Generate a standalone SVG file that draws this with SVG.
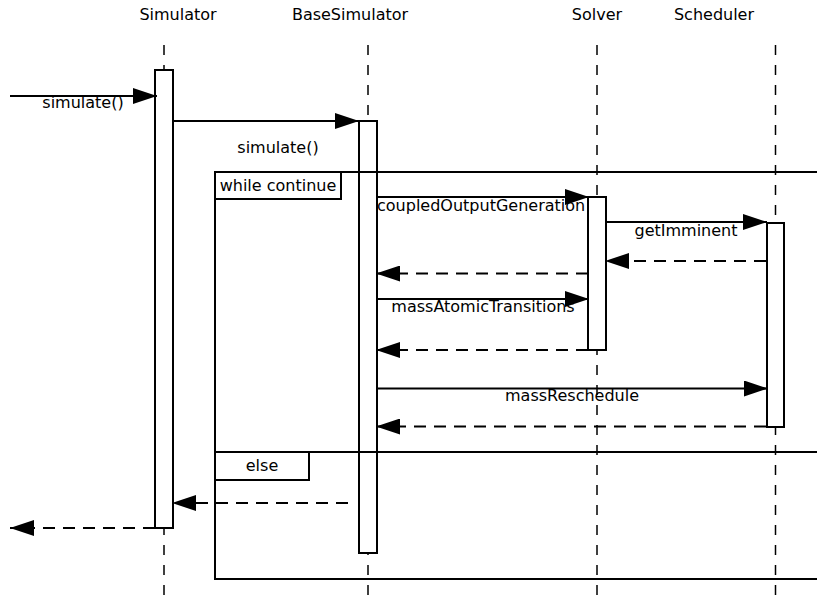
<svg xmlns="http://www.w3.org/2000/svg" width="817" height="603" viewBox="0 0 817 603">
<style>
text{font-family:"DejaVu Sans",sans-serif;font-size:16px;fill:#000}
.life{stroke:#000;stroke-width:1.5;stroke-dasharray:10 10;fill:none}
.act{fill:#fff;stroke:#000;stroke-width:2}
.frame{fill:none;stroke:#000;stroke-width:2}
.lab{fill:#fff;stroke:#000;stroke-width:2}
.msg{stroke:#000;stroke-width:2;fill:none}
.ret{stroke:#000;stroke-width:2;fill:none;stroke-dasharray:12 8}
</style>
<defs>
<marker id="ah" markerUnits="userSpaceOnUse" markerWidth="24" markerHeight="16" refX="24" refY="8" orient="auto">
<path d="M0,0 L24,8 L0,16 Z" fill="#000"/>
</marker>
</defs>
<rect width="817" height="603" fill="#fff"/>
<g id="Simulator">
<text x="178" y="20" text-anchor="middle">Simulator</text>
<line class="life" x1="164" y1="45" x2="164" y2="603"/>
</g>
<g id="BaseSimulator">
<text x="350" y="20" text-anchor="middle">BaseSimulator</text>
<line class="life" x1="368" y1="45" x2="368" y2="603"/>
</g>
<g id="Solver">
<text x="597" y="20" text-anchor="middle">Solver</text>
<line class="life" x1="597" y1="45" x2="597" y2="603"/>
</g>
<g id="Scheduler">
<text x="714" y="20" text-anchor="middle">Scheduler</text>
<line class="life" x1="775.5" y1="45" x2="775.5" y2="603"/>
</g>
<g id="activations">
<rect class="act" x="155" y="70" width="18" height="458"/>
<rect class="act" x="359" y="121" width="18" height="432"/>
<rect class="act" x="588" y="197" width="18" height="153"/>
<rect class="act" x="767" y="223" width="17" height="204"/>
</g>
<g id="loop-frame">
<path class="frame" d="M830,172 H215 V579 H830"/>
<line class="frame" x1="215" y1="452" x2="830" y2="452"/>
<rect class="lab" x="215" y="172" width="126" height="27"/>
<text x="278" y="191" text-anchor="middle">while continue</text>
<rect class="lab" x="215" y="452" width="94" height="28"/>
<text x="262" y="471" text-anchor="middle">else</text>
</g>
<g id="connectors">
<line class="msg" x1="10" y1="96" x2="157" y2="96" marker-end="url(#ah)"/>
<text x="83" y="108" text-anchor="middle">simulate()</text>
<line class="msg" x1="173" y1="121" x2="359" y2="121" marker-end="url(#ah)"/>
<text x="278" y="153" text-anchor="middle">simulate()</text>
<line class="msg" x1="377" y1="197" x2="589" y2="197" marker-end="url(#ah)"/>
<text x="377" y="211">coupledOutputGeneration</text>
<line class="msg" x1="606" y1="222" x2="767" y2="222" marker-end="url(#ah)"/>
<text x="686" y="236" text-anchor="middle">getImminent</text>
<line class="ret" x1="766" y1="261" x2="605" y2="261" marker-end="url(#ah)"/>
<line class="ret" x1="588" y1="273.5" x2="376" y2="273.5" marker-end="url(#ah)"/>
<line class="msg" x1="377" y1="299" x2="589" y2="299" marker-end="url(#ah)"/>
<text x="483" y="312" text-anchor="middle">massAtomicTransitions</text>
<line class="ret" x1="588" y1="350" x2="376" y2="350" marker-end="url(#ah)"/>
<line class="msg" x1="377" y1="388.5" x2="768" y2="388.5" marker-end="url(#ah)"/>
<text x="572" y="401" text-anchor="middle">massReschedule</text>
<line class="ret" x1="766" y1="426.5" x2="376" y2="426.5" marker-end="url(#ah)"/>
<line class="ret" x1="348" y1="503" x2="172" y2="503" marker-end="url(#ah)"/>
<line class="ret" x1="155" y1="528" x2="10" y2="528" marker-end="url(#ah)"/>
</g>
</svg>
